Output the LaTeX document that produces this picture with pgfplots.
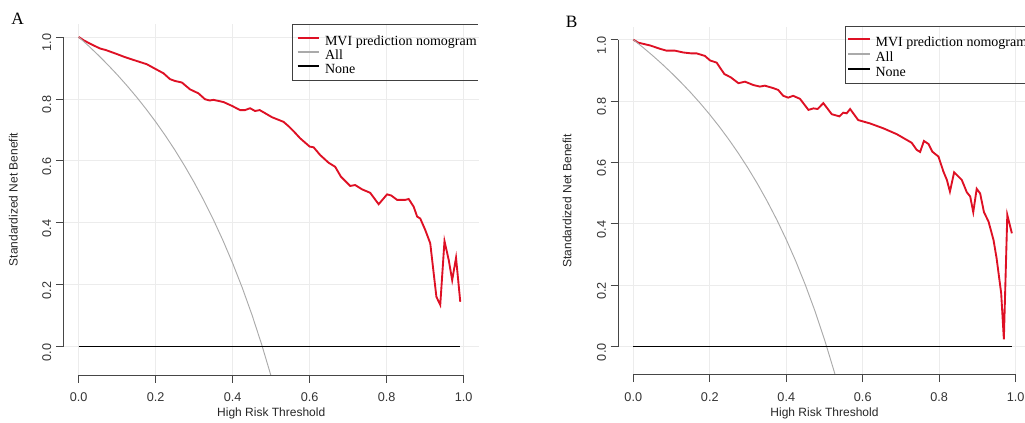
\documentclass[border=0pt]{standalone}
\usepackage{pgfplots}
\pgfplotsset{compat=1.18}
\usepackage{fontspec}
\setmainfont{Liberation Serif}
\setsansfont{Liberation Sans}
\definecolor{nomored}{RGB}{222,16,36}
\definecolor{allgray}{RGB}{170,170,170}
\definecolor{gridc}{RGB}{236,236,236}
\definecolor{axc}{RGB}{70,70,70}

\pgfplotsset{
  dcastyle/.style={
    scale only axis,
    anchor=south west,
    xmin=-0.04, xmax=1.04, ymin=-0.092, ymax=1.042,
    xtick={0,0.2,0.4,0.6,0.8,1.0},
    ytick={0,0.2,0.4,0.6,0.8,1.0},
    grid=major,
    major grid style={gridc, line width=0.6pt},
    axis line style={draw=none},
    tick pos=left,
    tick align=outside,
    major tick length=5.5pt,
    tick style={axc, line width=0.6pt},
    /pgf/number format/assume math mode=true,
    /pgf/number format/fixed, /pgf/number format/fixed zerofill, /pgf/number format/precision=1,
    tick label style={font=\sffamily\fontsize{9.5}{10}\selectfont, text=black!80},
    xticklabel style={yshift=-4.2pt},
    yticklabel style={rotate=90, anchor=south, xshift=-4.2pt},
    xlabel={High Risk Threshold},
    ylabel={Standardized Net Benefit},
    clip mode=individual,
    legend cell align=left,
    legend style={draw=none, fill=none, anchor=north west,
      font=\rmfamily\fontsize{10.5}{10.5}\selectfont,
      nodes={inner sep=0pt, text height=7.5pt, text depth=3pt},
      /tikz/column sep=3.75pt},
    legend image code/.code={\draw[#1] (0pt,3.2pt) -- (16.2pt,3.2pt);},
  },
}

\begin{document}
\begin{tikzpicture}
\useasboundingbox (0,0) rectangle (768.75pt,317.25pt);

% ---------------- Panel A ----------------
\begin{axis}[dcastyle,
  at={(47.5pt,35.85pt)}, width=311.85pt, height=263.4pt,
  every axis x label/.style={at={(axis description cs:0.5,-0.110)}, anchor=center,
    font=\sffamily\fontsize{9}{10}\selectfont, text=black!85},
  every axis y label/.style={at={(axis description cs:-0.120,0.5)}, rotate=90, anchor=center,
    font=\sffamily\fontsize{9}{10}\selectfont, text=black!85},
  legend style={at={(axis description cs:0.5507,0.9764)}, row sep=0pt},
]
\addplot[nomored, line width=1.4pt, forget plot] coordinates {
(0,1.0) (0.012,0.990) (0.030,0.978) (0.055,0.963) (0.070,0.958) (0.099,0.945) (0.120,0.935)
(0.142,0.926) (0.177,0.912) (0.199,0.897) (0.220,0.883) (0.237,0.864) (0.250,0.858) (0.268,0.853)
(0.289,0.831) (0.311,0.818) (0.328,0.799) (0.340,0.795) (0.350,0.797) (0.376,0.790) (0.399,0.777)
(0.419,0.764) (0.432,0.764) (0.445,0.770) (0.458,0.761) (0.470,0.764) (0.484,0.754) (0.502,0.741)
(0.532,0.726) (0.545,0.712) (0.558,0.696) (0.575,0.673) (0.600,0.646) (0.610,0.644) (0.627,0.619)
(0.649,0.594) (0.666,0.581) (0.681,0.549) (0.705,0.519) (0.718,0.522) (0.736,0.508) (0.757,0.497)
(0.779,0.460) (0.801,0.492) (0.812,0.488) (0.827,0.474) (0.848,0.474) (0.857,0.477) (0.870,0.452)
(0.879,0.420) (0.887,0.414) (0.900,0.377) (0.913,0.334) (0.929,0.161) (0.939,0.135) (0.950,0.341)
(0.961,0.280) (0.970,0.215) (0.980,0.287) (0.991,0.145)
};
\addplot[allgray, line width=0.7pt, forget plot] coordinates {
(0,1) (0.025,0.9719) (0.05,0.9423) (0.075,0.9111) (0.1,0.8782) (0.125,0.8433) (0.15,0.8065)
(0.175,0.7674) (0.2,0.7259) (0.225,0.6816) (0.25,0.6345) (0.275,0.5840) (0.3,0.5300)
(0.325,0.4720) (0.35,0.4095) (0.375,0.3420) (0.4,0.2689) (0.425,0.1895) (0.45,0.1028)
(0.475,0.0078) (0.5,-0.0966)
};
\addplot[black, line width=0.9pt, forget plot] coordinates {(0,0) (0.99,0)};
\addlegendimage{nomored, line width=1.4pt}
\addlegendentry{MVI prediction nomogram}
\addlegendimage{allgray, line width=1.4pt}
\addlegendentry{All}
\addlegendimage{black, line width=1.2pt}
\addlegendentry{None}
\draw[axc, line width=0.6pt] (axis cs:0,-0.092) -- (axis cs:1,-0.092);
\draw[axc, line width=0.6pt] (axis cs:-0.04,0) -- (axis cs:-0.04,1);
\draw[black!75, line width=0.7pt] (axis description cs:0.997,1) -- (axis description cs:0.550,1)
  -- (axis description cs:0.550,0.838) -- (axis description cs:0.997,0.838);
\node[font=\rmfamily\fontsize{13}{13}\selectfont] at (axis description cs:-0.1097,1.0142) {A};
\end{axis}

% ---------------- Panel B ----------------
\begin{axis}[dcastyle,
  at={(463.5pt,36.1pt)}, width=309.75pt, height=261.1pt,
  every axis x label/.style={at={(axis description cs:0.5,-0.110)}, anchor=center,
    font=\sffamily\fontsize{9}{10}\selectfont, text=black!85},
  every axis y label/.style={at={(axis description cs:-0.123,0.5)}, rotate=90, anchor=center,
    font=\sffamily\fontsize{9}{10}\selectfont, text=black!85},
  legend style={at={(axis description cs:0.5444,0.9830)}, nodes={text height=8pt, text depth=3.25pt}},
]
\addplot[nomored, line width=1.4pt, forget plot] coordinates {
(0,1.0) (0.013,0.990) (0.044,0.981) (0.070,0.970) (0.087,0.964) (0.109,0.964) (0.131,0.958)
(0.153,0.955) (0.166,0.955) (0.187,0.947) (0.201,0.932) (0.218,0.925) (0.238,0.888) (0.255,0.877)
(0.275,0.858) (0.292,0.863) (0.314,0.852) (0.331,0.847) (0.344,0.850) (0.366,0.842) (0.379,0.836)
(0.392,0.817) (0.405,0.811) (0.418,0.817) (0.436,0.807) (0.458,0.771) (0.471,0.776) (0.482,0.774)
(0.497,0.793) (0.519,0.757) (0.539,0.750) (0.549,0.762) (0.558,0.760) (0.567,0.774) (0.588,0.738)
(0.619,0.727) (0.654,0.711) (0.689,0.692) (0.728,0.664) (0.741,0.641) (0.750,0.634) (0.760,0.670)
(0.772,0.660) (0.782,0.635) (0.798,0.619) (0.811,0.570) (0.820,0.543) (0.828,0.505) (0.839,0.568)
(0.859,0.543) (0.872,0.503) (0.881,0.489) (0.889,0.438) (0.898,0.514) (0.907,0.499) (0.917,0.438)
(0.929,0.407) (0.942,0.347) (0.950,0.288) (0.962,0.174) (0.969,0.024) (0.978,0.429) (0.990,0.369)
};
\addplot[allgray, line width=0.7pt, forget plot] coordinates {
(0,1) (0.025,0.9749) (0.05,0.9486) (0.075,0.9208) (0.1,0.8914) (0.125,0.8604) (0.15,0.8276)
(0.175,0.7928) (0.2,0.7558) (0.225,0.7164) (0.25,0.6743) (0.275,0.6294) (0.3,0.5813)
(0.325,0.5296) (0.35,0.4739) (0.375,0.4138) (0.4,0.3487) (0.425,0.2779) (0.45,0.2006)
(0.475,0.1161) (0.5,0.0230) (0.525,-0.0798) (0.53,-0.1017)
};
\addplot[black, line width=0.9pt, forget plot] coordinates {(0,0) (0.99,0)};
\addlegendimage{nomored, line width=1.4pt}
\addlegendentry{MVI prediction nomogram}
\addlegendimage{allgray, line width=1.4pt}
\addlegendentry{All}
\addlegendimage{black, line width=1.2pt}
\addlegendentry{None}
\draw[axc, line width=0.6pt] (axis cs:0,-0.092) -- (axis cs:1,-0.092);
\draw[axc, line width=0.6pt] (axis cs:-0.04,0) -- (axis cs:-0.04,1);
\draw[black!75, line width=0.7pt] (axis description cs:1.02,1) -- (axis description cs:0.551,1)
  -- (axis description cs:0.551,0.836) -- (axis description cs:1.02,0.836);
\node[font=\rmfamily\fontsize{13}{13}\selectfont] at (axis description cs:-0.112,1.0147) {B};
\end{axis}
\end{tikzpicture}
\end{document}
